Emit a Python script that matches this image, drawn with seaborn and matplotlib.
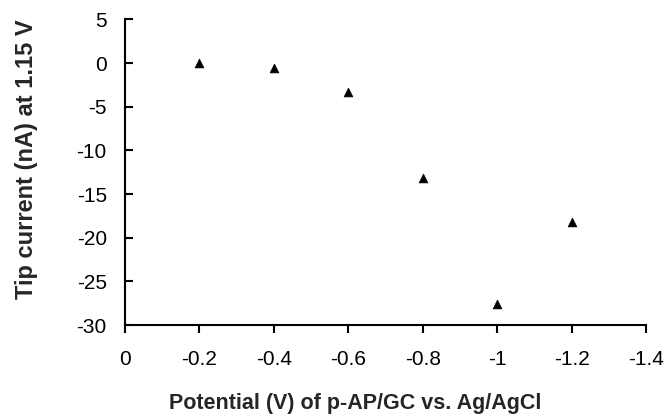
import matplotlib
matplotlib.use("Agg")
import matplotlib.pyplot as plt
import seaborn as sns
import pandas as pd

potential = [-0.2, -0.4, -0.6, -0.8, -1.0, -1.2]
tip_current = [0.0, -0.6, -3.3, -13.2, -27.6, -18.2]
x_ticks = [0, -0.2, -0.4, -0.6, -0.8, -1.0, -1.2, -1.4]
x_tick_labels = ["0", "-0.2", "-0.4", "-0.6", "-0.8", "-1", "-1.2", "-1.4"]
y_ticks = [5, 0, -5, -10, -15, -20, -25, -30]

sns.set_theme(style="ticks")
plt.rcParams['font.family'] = ['Liberation Sans', 'DejaVu Sans']

df = pd.DataFrame({"x": potential, "y": tip_current})
fig = plt.figure(figsize=(6.68, 4.17), dpi=100)
ax = fig.add_axes([0.187, 0.2206, 0.780, 0.733])
sns.scatterplot(data=df, x="x", y="y", marker="^", color="black", s=40,
                edgecolor="black", linewidth=0.5, ax=ax, zorder=3)
ax.set_xlim(0, -1.4)
ax.set_ylim(-30, 5)
ax.set_xticks(x_ticks, labels=x_tick_labels)
ax.set_yticks(y_ticks, labels=[str(v) for v in y_ticks])
sns.despine(ax=ax)
for s in ["left", "bottom"]:
    ax.spines[s].set_color("black")
    ax.spines[s].set_linewidth(1.5)
ax.tick_params(axis="x", bottom=True, direction="out", length=6,
               width=1.5, color="black", labelcolor="black", labelsize=15, pad=12)
ax.tick_params(axis="y", left=True, direction="in", length=6,
               width=1.5, color="black", labelcolor="black", labelsize=15, pad=13)
ax.set_xlabel("Potential (V) of p-AP/GC vs. Ag/AgCl", fontsize=15.5,
              fontweight="bold")
ax.set_ylabel("Tip current (nA) at 1.15 V", fontsize=17, fontweight="bold")
ax.xaxis.set_label_coords(0.441, -0.222)
ax.yaxis.set_label_coords(-0.167, 0.542)
fig.savefig("out.png", dpi=100)
